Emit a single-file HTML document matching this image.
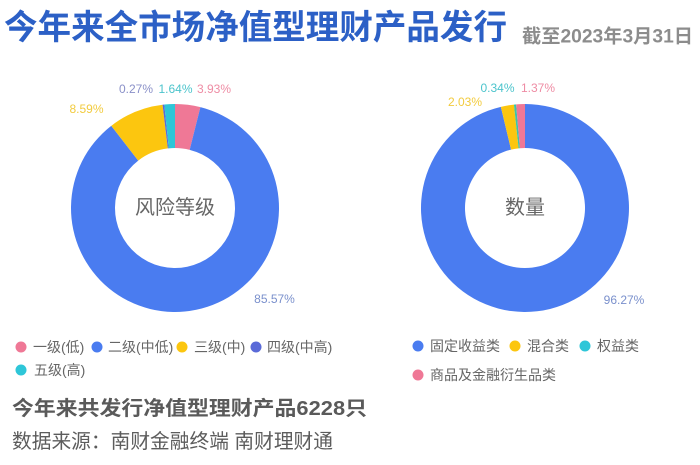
<!DOCTYPE html>
<html>
<head>
<meta charset="utf-8">
<style>
  html, body { margin: 0; padding: 0; background: #ffffff; }
  body { width: 700px; height: 465px; overflow: hidden; }
  svg { display: block; }
  text { font-family: "Liberation Sans", "Noto Sans CJK SC", sans-serif; }
</style>
</head>
<body>
<svg width="700" height="465" viewBox="0 0 700 465" xmlns="http://www.w3.org/2000/svg">
  <rect x="0" y="0" width="700" height="465" fill="#ffffff"/>

  <!-- Title -->
  <text x="4" y="28" font-size="34" font-weight="bold" fill="#2c60c6" dominant-baseline="central" textLength="503" lengthAdjust="spacingAndGlyphs">今年来全市场净值型理财产品发行</text>
  <text x="522" y="37" font-size="19" font-weight="bold" fill="#8c8c8c" dominant-baseline="central" textLength="171" lengthAdjust="spacingAndGlyphs">截至2023年3月31日</text>

  <!-- Left donut: center (175,208), R=104, r=60 -->
  <path d="M175,104 A104,104 0 0 1 200.42,107.15 L189.67,149.82 A60,60 0 0 0 175,148 Z" fill="#ef7896"/>
  <path d="M200.42,107.15 A104,104 0 1 1 111.26,125.82 L138.23,160.59 A60,60 0 1 0 189.67,149.82 Z" fill="#4a7cf0"/>
  <path d="M111.26,125.82 A104,104 0 0 1 162.55,104.75 L167.82,148.43 A60,60 0 0 0 138.23,160.59 Z" fill="#fcc60f"/>
  <path d="M162.55,104.75 A104,104 0 0 1 164.30,104.55 L168.83,148.32 A60,60 0 0 0 167.82,148.43 Z" fill="#5a6ad8"/>
  <path d="M164.30,104.55 A104,104 0 0 1 175,104 L175,148 A60,60 0 0 0 168.83,148.32 Z" fill="#2ec6d8"/>
  <text x="175" y="208" font-size="20" fill="#666666" text-anchor="middle" dominant-baseline="central">风险等级</text>

  <!-- Left labels -->
  <text x="136" y="89" font-size="12" fill="#8a90c8" text-anchor="middle" dominant-baseline="central">0.27%</text>
  <text x="175.5" y="89" font-size="12" fill="#4cc4cc" text-anchor="middle" dominant-baseline="central">1.64%</text>
  <text x="214" y="89" font-size="12" fill="#ee8ca4" text-anchor="middle" dominant-baseline="central">3.93%</text>
  <text x="86.5" y="109" font-size="12" fill="#f2cb3e" text-anchor="middle" dominant-baseline="central">8.59%</text>
  <text x="274.5" y="299" font-size="12" fill="#7a90cc" text-anchor="middle" dominant-baseline="central">85.57%</text>

  <!-- Right donut: center (525,208) -->
  <path d="M525,104 A104,104 0 1 1 500.85,106.84 L511.07,149.64 A60,60 0 1 0 525,148 Z" fill="#4a7cf0"/>
  <path d="M500.85,106.84 A104,104 0 0 1 513.91,104.59 L518.60,148.34 A60,60 0 0 0 511.07,149.64 Z" fill="#fcc60f"/>
  <path d="M513.91,104.59 A104,104 0 0 1 516.12,104.38 L519.88,148.22 A60,60 0 0 0 518.60,148.34 Z" fill="#3cc4a8"/>
  <path d="M516.12,104.38 A104,104 0 0 1 525,104 L525,148 A60,60 0 0 0 519.88,148.22 Z" fill="#ef7896"/>
  <text x="525" y="208" font-size="20" fill="#666666" text-anchor="middle" dominant-baseline="central">数量</text>

  <!-- Right labels -->
  <text x="497.5" y="88" font-size="12" fill="#4cc4cc" text-anchor="middle" dominant-baseline="central">0.34%</text>
  <text x="538" y="88" font-size="12" fill="#ee8ca4" text-anchor="middle" dominant-baseline="central">1.37%</text>
  <text x="465" y="102" font-size="12" fill="#f2cb3e" text-anchor="middle" dominant-baseline="central">2.03%</text>
  <text x="624" y="300" font-size="12" fill="#7a90cc" text-anchor="middle" dominant-baseline="central">96.27%</text>

  <!-- Left legend -->
  <circle cx="21" cy="347" r="5.5" fill="#ef7896"/>
  <text x="33" y="347" font-size="14" fill="#666666" dominant-baseline="central">一级(低)</text>
  <circle cx="97" cy="347" r="5.5" fill="#4a7cf0"/>
  <text x="108" y="347" font-size="14" fill="#666666" dominant-baseline="central">二级(中低)</text>
  <circle cx="182" cy="347" r="5.5" fill="#fcc60f"/>
  <text x="194" y="347" font-size="14" fill="#666666" dominant-baseline="central">三级(中)</text>
  <circle cx="256" cy="347" r="5.5" fill="#5a6ad8"/>
  <text x="267" y="347" font-size="14" fill="#666666" dominant-baseline="central">四级(中高)</text>
  <circle cx="21" cy="370" r="5.5" fill="#2ec6d8"/>
  <text x="34" y="370" font-size="14" fill="#666666" dominant-baseline="central">五级(高)</text>

  <!-- Right legend -->
  <circle cx="418" cy="346" r="5.5" fill="#4a7cf0"/>
  <text x="430" y="346" font-size="14" fill="#666666" dominant-baseline="central">固定收益类</text>
  <circle cx="515" cy="346" r="5.5" fill="#fcc60f"/>
  <text x="527" y="346" font-size="14" fill="#666666" dominant-baseline="central">混合类</text>
  <circle cx="585" cy="346" r="5.5" fill="#2ec6d8"/>
  <text x="597" y="346" font-size="14" fill="#666666" dominant-baseline="central">权益类</text>
  <circle cx="418" cy="375" r="5.5" fill="#ef7896"/>
  <text x="430" y="375" font-size="14" fill="#666666" dominant-baseline="central">商品及金融衍生品类</text>

  <!-- Bottom text -->
  <text x="12" y="409" font-size="20" font-weight="bold" fill="#5a5a5a" dominant-baseline="central" textLength="355" lengthAdjust="spacingAndGlyphs">今年来共发行净值型理财产品6228只</text>
  <text x="12" y="442" font-size="20" fill="#5c5c5c" dominant-baseline="central" textLength="321" lengthAdjust="spacingAndGlyphs">数据来源：南财金融终端 南财理财通</text>
</svg>
</body>
</html>
